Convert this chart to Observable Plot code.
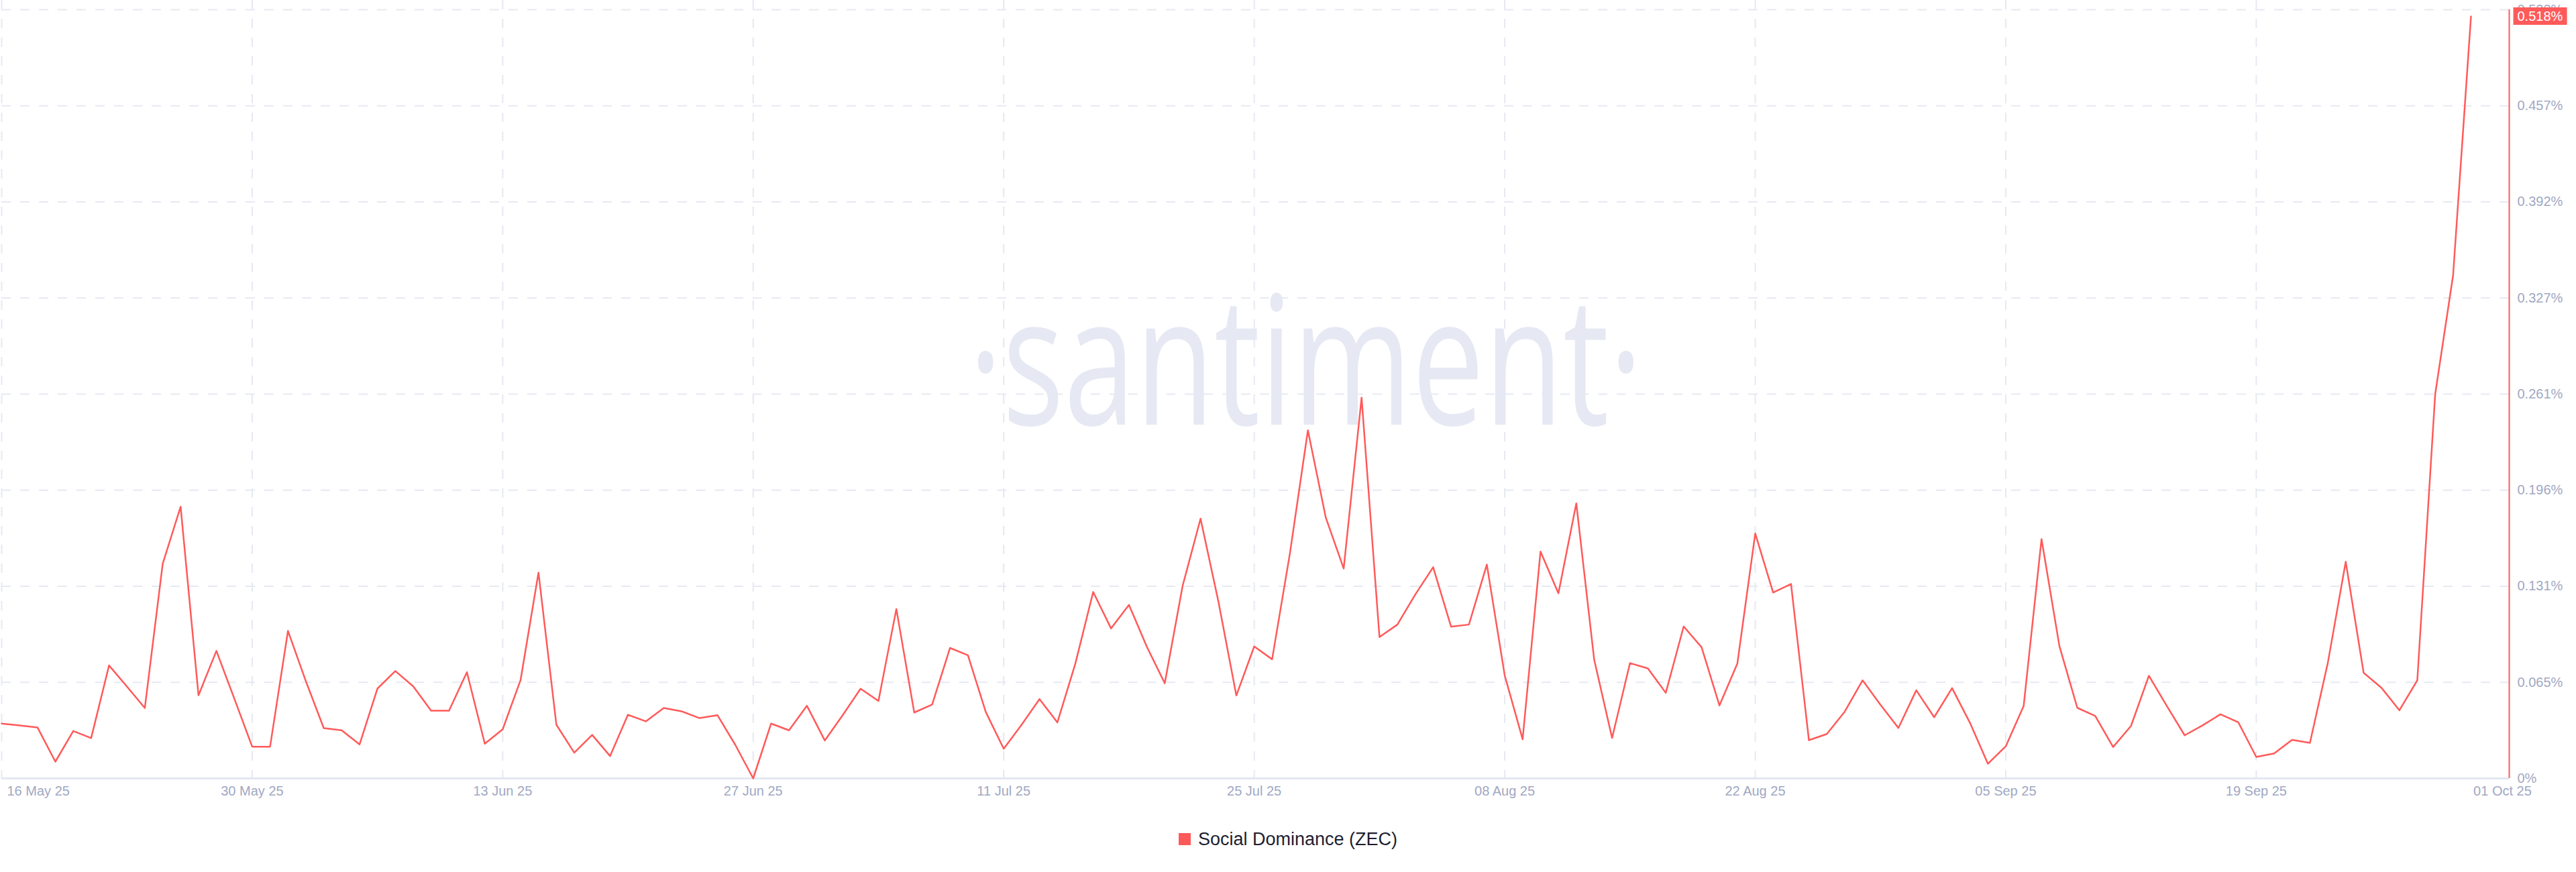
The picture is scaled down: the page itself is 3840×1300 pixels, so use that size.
<!DOCTYPE html>
<html>
<head>
<meta charset="utf-8">
<script src="https://cdn.jsdelivr.net/npm/d3@7"></script>
<script src="https://cdn.jsdelivr.net/npm/@observablehq/plot@0.6"></script>
<style>
html, body { margin: 0; padding: 0; background: #ffffff; }
body { width: 3840px; height: 1300px; overflow: hidden; font-family: "Liberation Sans", Arial, Helvetica, sans-serif; }
#legend { height: 82px; display: flex; align-items: center; justify-content: center; gap: 11px; font-size: 27px; color: #1d1e30; }
#legend .sw { width: 18px; height: 18px; background: #ff5a5a; display: inline-block; }
</style>
</head>
<body>
<div id="chart"></div>
<div id="legend"><span class="sw"></span><span id="legend-label"></span></div>
<script>
// ---------- data ----------
const seriesName = "Social Dominance (ZEC)";
const startDate = "2025-05-16";           // first daily observation
const domainEnd = "2025-10-03T03:20:00Z";  // right edge of the plot area
// daily social dominance (%), 16 May 2025 .. 01 Oct 2025
const dominance = [
  0.0373, 0.0360, 0.0347, 0.0114, 0.0322, 0.0274, 0.0768, 0.0625, 0.0479, 0.1460,
  0.1847, 0.0565, 0.0867, 0.0543, 0.0216, 0.0216, 0.1003, 0.0661, 0.0342, 0.0327,
  0.0231, 0.0611, 0.0730, 0.0626, 0.0461, 0.0461, 0.0722, 0.0236, 0.0334, 0.0669,
  0.1399, 0.0365, 0.0175, 0.0296, 0.0152, 0.0433, 0.0388, 0.0479, 0.0456, 0.0410,
  0.0430, 0.0228, 0.0000, 0.0373, 0.0327, 0.0494, 0.0258, 0.0430, 0.0610, 0.0527,
  0.1152, 0.0448, 0.0502, 0.0887, 0.0837, 0.0451, 0.0202, 0.0365, 0.0539, 0.0381,
  0.0779, 0.1268, 0.1020, 0.1180, 0.0895, 0.0647, 0.1310, 0.1766, 0.1202, 0.0564,
  0.0897, 0.0810, 0.1534, 0.2367, 0.1773, 0.1427, 0.2589, 0.0961, 0.1046, 0.1250,
  0.1436, 0.1032, 0.1046, 0.1454, 0.0700, 0.0266, 0.1543, 0.1259, 0.1870, 0.0807,
  0.0275, 0.0784, 0.0748, 0.0582, 0.1033, 0.0892, 0.0496, 0.0781, 0.1665, 0.1264,
  0.1322, 0.0260, 0.0302, 0.0454, 0.0667, 0.0500, 0.0343, 0.0599, 0.0416, 0.0614,
  0.0378, 0.0100, 0.0218, 0.0492, 0.1627, 0.0899, 0.0480, 0.0425, 0.0214, 0.0357,
  0.0698, 0.0493, 0.0293, 0.0361, 0.0436, 0.0381, 0.0146, 0.0170, 0.0262, 0.0242,
  0.0786, 0.1473, 0.0718, 0.0616, 0.0463, 0.0667, 0.2613, 0.3420, 0.5180
];
const xTickDates = ["2025-05-16", "2025-05-30", "2025-06-13", "2025-06-27", "2025-07-11",
                    "2025-07-25", "2025-08-08", "2025-08-22", "2025-09-05", "2025-09-19", "2025-10-01"];
const xTickLabels = ["16 May 25", "30 May 25", "13 Jun 25", "27 Jun 25", "11 Jul 25",
                     "25 Jul 25", "08 Aug 25", "22 Aug 25", "05 Sep 25", "19 Sep 25", "01 Oct 25"];
const yTickValues = [0, 0.06533, 0.13065, 0.19598, 0.2613, 0.32663, 0.39195, 0.45728, 0.5226];
const yTickLabels = ["0%", "0.065%", "0.131%", "0.196%", "0.261%", "0.327%", "0.392%", "0.457%", "0.523%"];
const watermarkText = "·santiment·";

// ---------- styles ----------
const lineColor = "#ff5a5a";
const gridColor = "#e6e9f2";
const labelColor = "#9fa8c3";
const fontFamily = "Liberation Sans, Arial, Helvetica, sans-serif";

// ---------- derived tables ----------
const start = new Date(startDate);
const xEnd = new Date(domainEnd);
const series = dominance.map((v, i) => ({date: d3.utcDay.offset(start, i), value: v}));
const xTicks = xTickDates.map((d, i) => ({date: new Date(d), label: xTickLabels[i]}));
const yTicks = yTickValues.map((v, i) => ({value: v, label: yTickLabels[i]}));
const last = series[series.length - 1];
const badgeLabel = d3.format(".3f")(last.value) + "%";

document.getElementById("legend-label").textContent = seriesName;

const chart = Plot.plot({
  width: 3840,
  height: 1210,
  marginLeft: 2,
  marginRight: 100,
  marginTop: 14,
  marginBottom: 50,
  style: {fontFamily, background: "#ffffff", overflow: "visible"},
  x: {type: "utc", domain: [start, xEnd], axis: null},
  y: {domain: [0, yTickValues[yTickValues.length - 1]], axis: null},
  marks: [
    // watermark
    Plot.text([watermarkText], {frameAnchor: "middle", text: d => d, dx: 75, dy: -40,
      fontSize: 268, fill: "#e6e9f3", fontFamily: "Open Sans, sans-serif", fontWeight: 500}),
    // horizontal dashed grid
    Plot.ruleY(yTicks.slice(1), {y: "value", stroke: gridColor, strokeWidth: 2, strokeDasharray: "14,14"}),
    // vertical dashed grid
    Plot.ruleX(xTicks.slice(0, -1), {x: "date", stroke: gridColor, strokeWidth: 2, strokeDasharray: "14,14", insetTop: -14}),
    // bottom axis line
    Plot.ruleY([0], {stroke: "#e3e7f0", strokeWidth: 3}),
    // right axis line
    Plot.ruleX([xEnd], {stroke: lineColor, strokeWidth: 2}),
    // the series
    Plot.line(series, {x: "date", y: "value", stroke: lineColor, strokeWidth: 2.5, curve: "linear"}),
    // y tick labels (right)
    Plot.text(yTicks, {x: () => xEnd, y: "value", text: "label", textAnchor: "start", dx: 12,
      fill: labelColor, fontSize: 20}),
    // x tick labels
    Plot.text(xTicks.slice(0, 1), {x: "date", y: () => 0, text: "label", textAnchor: "start", dx: 8, dy: 19,
      fill: labelColor, fontSize: 20}),
    Plot.text(xTicks.slice(1, -1), {x: "date", y: () => 0, text: "label", textAnchor: "middle", dy: 19,
      fill: labelColor, fontSize: 20}),
    Plot.text(xTicks.slice(-1), {x: "date", y: () => 0, text: "label", textAnchor: "middle", dx: 47, dy: 19,
      fill: labelColor, fontSize: 20}),
    // last value badge text
    Plot.text([last], {x: () => xEnd, y: "value", text: () => badgeLabel, textAnchor: "start", dx: 12,
      fill: "#ffffff", fontSize: 20})
  ]
});

document.getElementById("chart").appendChild(chart);

// post-process: badge background and watermark width
const svg = d3.select(chart);
svg.selectAll("text").filter(function() { return this.textContent === badgeLabel; }).each(function() {
  const bb = this.getBBox();
  const g = this.parentNode;
  const cy = bb.y + bb.height / 2;
  const tr = this.getAttribute("transform");
  const r = d3.select(g).insert("rect", () => this)
    .attr("x", bb.x - 6).attr("y", cy - 13)
    .attr("width", bb.width + 12).attr("height", 26)
    .attr("fill", lineColor);
  if (tr) r.attr("transform", tr);
  // bring group to top
  g.parentNode.appendChild(g);
});
svg.selectAll("text").filter(function() { return this.textContent === watermarkText; })
  .attr("textLength", 1005).attr("lengthAdjust", "spacingAndGlyphs");
</script>
</body>
</html>
